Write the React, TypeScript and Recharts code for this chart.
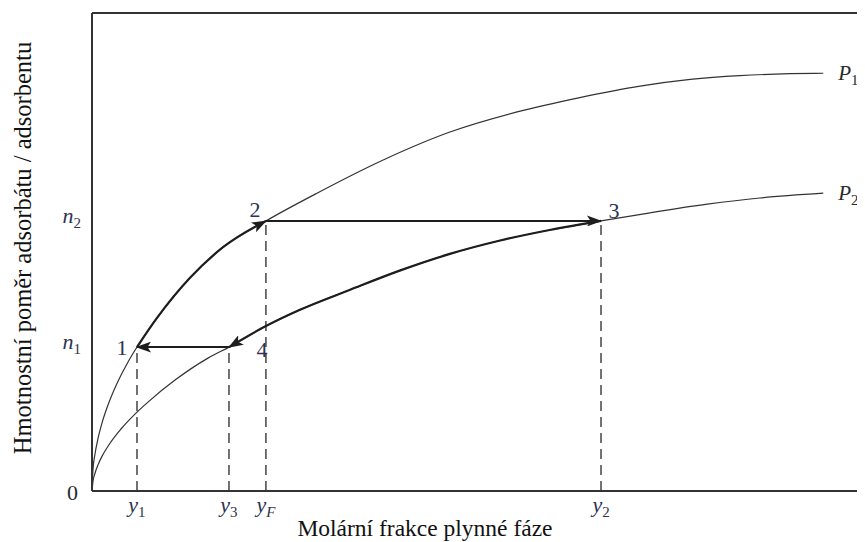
import { LineChart, Line, XAxis, YAxis, ReferenceLine, ReferenceDot } from 'recharts';

// isotherm at the higher pressure (P1)
const p1X = [0, 0.13, 0.39, 0.78, 1.29, 2.07, 3.23, 4.66, 5.82, 8.41, 12.68, 16.95, 22.5, 29.1, 37.6, 46.3, 55.0, 63.1, 70.9, 77.4, 83.8, 90.3, 94.6];
const p1Y = [0, 4.5, 7.74, 11.0, 14.2, 18.0, 22.5, 27.0, 30.1, 36.2, 44.6, 51.0, 56.5, 62.3, 69.2, 75.1, 79.3, 82.3, 84.7, 86.1, 86.9, 87.3, 87.4];

// isotherm at the lower pressure (P2)
const p2X = [0, 0.13, 0.39, 0.78, 1.29, 2.07, 3.75, 5.69, 7.24, 10.74, 15.0, 17.72, 22.5, 26.9, 33.4, 39.8, 46.3, 52.8, 59.2, 65.85, 72.2, 79.6, 86.4, 94.6];
const p2Y = [0, 2.03, 3.72, 5.46, 7.24, 9.37, 12.97, 16.3, 18.6, 23.2, 27.8, 30.1, 34.5, 37.9, 42.1, 46.1, 49.6, 52.4, 54.6, 56.5, 58.2, 60.0, 61.3, 62.3];

// cycle states
const xTicks = [5.82, 17.72, 22.5, 65.85]; // y1, y3, yF, y2
const xTickBase = ['y', 'y', 'y', 'y'];
const xTickSub = ['1', '3', 'F', '2'];
const yTicks = [0, 30.1, 56.5]; // 0, n1, n2
const yTickBase = ['0', 'n', 'n'];
const yTickSub = ['', '1', '2'];

const [y1, y3, yF, y2] = xTicks;
const [, n1, n2] = yTicks;

const zip = (xs: number[], ys: number[]) => xs.map((x, i) => ({ x, y: ys[i] }));
const p1 = zip(p1X, p1Y);
const p2 = zip(p2X, p2Y);
const seg12 = p1.filter((d) => d.x >= y1 && d.x <= yF);
const seg34 = p2.filter((d) => d.x >= y3 && d.x <= y2).reverse();
const seg23 = [{ x: yF, y: n2 }, { x: y2, y: n2 }];
const seg41 = [{ x: y3, y: n1 }, { x: y1, y: n1 }];

const SERIF = 'Liberation Serif, DejaVu Serif, serif';
const NAVY = '#2d3350';
const INK = '#2a2a2a';

function XTick({ x, y, payload }: any) {
  const i = xTicks.indexOf(payload.value);
  const sub = xTickSub[i];
  return (
    <text x={x} y={y + 13} textAnchor="middle" fontFamily={SERIF} fontSize={22} fill={NAVY}>
      <tspan fontStyle="italic">{xTickBase[i]}</tspan>
      <tspan dy={5} fontSize={15} fontStyle={sub === 'F' ? 'italic' : 'normal'}>{sub}</tspan>
    </text>
  );
}

function YTick({ x, y, payload }: any) {
  const i = yTicks.indexOf(payload.value);
  if (yTickSub[i] === '') {
    return (
      <text x={x - 6} y={y + 9} textAnchor="end" fontFamily={SERIF} fontSize={22} fill={INK}>
        {yTickBase[i]}
      </text>
    );
  }
  return (
    <text x={x - 3} y={y + 2} textAnchor="end" fontFamily={SERIF} fontSize={22} fill={NAVY}>
      <tspan fontStyle="italic">{yTickBase[i]}</tspan>
      <tspan dy={5} fontSize={15}>{yTickSub[i]}</tspan>
    </text>
  );
}

const curveLabel = (sub: string) => ({ viewBox }: any) => (
  <text x={viewBox.x + 15} y={viewBox.y + 7} fontFamily={SERIF} fontSize={21} fill={INK}>
    <tspan fontStyle="italic">P</tspan>
    <tspan dy={5} fontSize={15}>{sub}</tspan>
  </text>
);

const stateLabel = (value: string, dx: number, dy: number) => ({ viewBox }: any) => (
  <text x={viewBox.x + dx} y={viewBox.y + dy} textAnchor="middle" fontFamily={SERIF} fontSize={22} fill={NAVY}>
    {value}
  </text>
);

const dash = { stroke: '#444', strokeWidth: 1.5, strokeDasharray: '10 6' };

export default function App() {
  return (
    <LineChart width={857} height={534} margin={{ top: 5, right: 0, bottom: 0, left: 0 }}>
      <defs>
        <marker id="arrow" viewBox="0 0 15 11" markerUnits="userSpaceOnUse" markerWidth={15} markerHeight={11} refX={14} refY={5.5} orient="auto">
          <path d="M0,0 L15,5.5 L0,11 L3.5,5.5 z" fill="#1e1e1e" />
        </marker>
      </defs>
      <XAxis
        type="number"
        dataKey="x"
        domain={[0, 100]}
        ticks={xTicks}
        interval={0}
        tick={<XTick />}
        tickLine={false}
        axisLine={{ stroke: '#333', strokeWidth: 2 }}
        height={51}
        allowDataOverflow
        label={{
          content: ({ viewBox }: any) => (
            <text x={viewBox.x + 333} y={viewBox.y + 45} textAnchor="middle" fontFamily={SERIF} fontSize={23.5} fill="#111">
              Molární frakce plynné fáze
            </text>
          ),
        }}
      />
      <YAxis
        type="number"
        dataKey="y"
        domain={[0, 100]}
        ticks={yTicks}
        interval={0}
        tick={<YTick />}
        tickLine={false}
        axisLine={{ stroke: '#333', strokeWidth: 2 }}
        width={84}
        allowDataOverflow
        label={{
          content: ({ viewBox }: any) => {
            const cx = viewBox.x + 14;
            const cy = viewBox.y + viewBox.height / 2 - 4;
            return (
              <text x={cx} y={cy} transform={`rotate(-90 ${cx} ${cy})`} textAnchor="middle" dominantBaseline="central" fontFamily={SERIF} fontSize={24.5} fill="#111">
                Hmotnostní poměr adsorbátu / adsorbentu
              </text>
            );
          },
        }}
      />
      <ReferenceLine y={100} stroke="#333" strokeWidth={2} />

      <ReferenceLine segment={[{ x: y1, y: 0 }, { x: y1, y: n1 }]} {...dash} />
      <ReferenceLine segment={[{ x: y3, y: 0 }, { x: y3, y: n1 }]} {...dash} />
      <ReferenceLine segment={[{ x: yF, y: 0 }, { x: yF, y: n2 }]} {...dash} />
      <ReferenceLine segment={[{ x: y2, y: 0 }, { x: y2, y: n2 }]} {...dash} />

      <Line data={p1} dataKey="y" type="monotone" stroke="#333" strokeWidth={1.2} dot={false} isAnimationActive={false} />
      <Line data={p2} dataKey="y" type="monotone" stroke="#333" strokeWidth={1.2} dot={false} isAnimationActive={false} />

      <Line data={seg12} dataKey="y" type="monotone" stroke="#1e1e1e" strokeWidth={2.2} dot={false} markerEnd="url(#arrow)" isAnimationActive={false} />
      <Line data={seg23} dataKey="y" type="linear" stroke="#1e1e1e" strokeWidth={2} dot={false} markerEnd="url(#arrow)" isAnimationActive={false} />
      <Line data={seg34} dataKey="y" type="monotone" stroke="#1e1e1e" strokeWidth={2.2} dot={false} markerEnd="url(#arrow)" isAnimationActive={false} />
      <Line data={seg41} dataKey="y" type="linear" stroke="#1e1e1e" strokeWidth={2} dot={false} markerEnd="url(#arrow)" isAnimationActive={false} />

      <ReferenceDot x={y1} y={n1} r={0} label={{ content: stateLabel('1', -15, 8) }} />
      <ReferenceDot x={yF} y={n2} r={0} label={{ content: stateLabel('2', -11, -4) }} />
      <ReferenceDot x={y2} y={n2} r={0} label={{ content: stateLabel('3', 13, -3) }} />
      <ReferenceDot x={y3} y={n1} r={0} label={{ content: stateLabel('4', 33, 10) }} />

      <ReferenceDot x={p1X[p1X.length - 1]} y={p1Y[p1Y.length - 1]} r={0} label={{ content: curveLabel('1') }} />
      <ReferenceDot x={p2X[p2X.length - 1]} y={p2Y[p2Y.length - 1]} r={0} label={{ content: curveLabel('2') }} />
    </LineChart>
  );
}
